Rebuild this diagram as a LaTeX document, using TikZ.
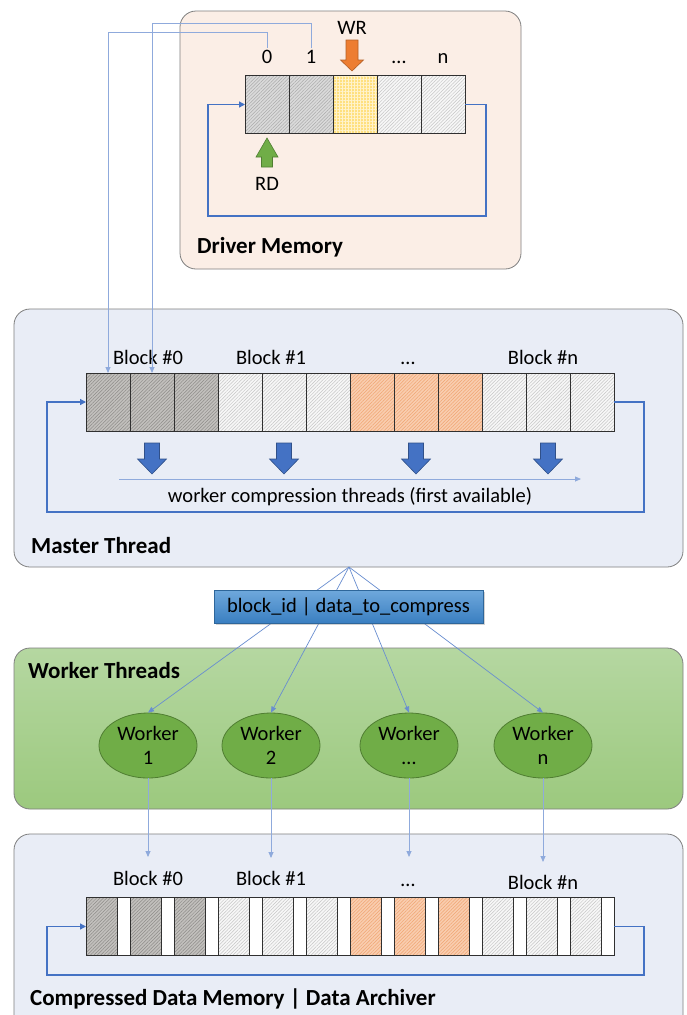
\documentclass[tikz,border=0pt]{standalone}
\usepackage{fontspec}
\setmainfont{Carlito}
\usetikzlibrary{positioning,shapes.geometric,patterns.meta,shadows,arrows.meta}

\definecolor{peach}{HTML}{FBEEE6}
\definecolor{paleblue}{HTML}{E9EDF6}
\definecolor{panelgray}{HTML}{7F7F7F}
\definecolor{loopblue}{HTML}{4472C4}
\definecolor{linkblue}{HTML}{8FAADC}
\definecolor{greentop}{HTML}{B5D7A1}
\definecolor{greenbot}{HTML}{9CC97E}
\definecolor{workergreen}{HTML}{70AD47}
\definecolor{workerline}{HTML}{507E32}
\definecolor{wrorange}{HTML}{ED7D31}
\definecolor{msgtop}{HTML}{6FA8DC}
\definecolor{msgbot}{HTML}{3A7FC1}
\definecolor{darkfill}{HTML}{C2C0BD}
\definecolor{darkline}{HTML}{8E8C89}
\definecolor{greyfill}{HTML}{DADADA}
\definecolor{greyline}{HTML}{ABABAB}
\definecolor{lightfill}{HTML}{F7F7F7}
\definecolor{lightline}{HTML}{C6C6C6}
\definecolor{orangefill}{HTML}{F9CDAF}
\definecolor{orangeline}{HTML}{F0A572}
\definecolor{yellowfill}{HTML}{FFE07F}
\definecolor{cellline}{HTML}{303030}

\begin{document}
\begin{tikzpicture}[x=1pt, y=-1pt,
  every node/.style={font=\fontsize{20.5}{24}\selectfont},
  panel/.style={draw=panelgray, line width=0.8pt, rounded corners=16pt},
  title node/.style={anchor=west, inner sep=0pt, font=\fontsize{23}{26}\selectfont\bfseries},
  lbl node/.style={anchor=base, inner sep=2pt},
  cell node/.style={draw=cellline, line width=1pt, minimum width=44pt, minimum height=58pt, inner sep=0pt, outer sep=0pt},
  hatch/.style 2 args={preaction={fill=#1}, pattern={Lines[angle=45,distance=2.4pt,line width=0.5pt]}, pattern color=#2},
  hdark/.style={hatch={darkfill}{darkline}},
  hgrey/.style={hatch={greyfill}{greyline}},
  hlight/.style={hatch={lightfill}{lightline}},
  horange/.style={hatch={orangefill}{orangeline}},
  hyellow/.style={preaction={fill=yellowfill}, pattern={Hatch[distance=3pt,line width=0.6pt]}, pattern color=white!60!yellowfill},
  loop line/.style={draw=loopblue, line width=1.3pt, -{Triangle[length=6pt,width=6pt]}},
  link/.style={draw=linkblue, line width=0.8pt, -{Triangle[length=6pt,width=5pt]}},
  fan link/.style={draw=loopblue!80, line width=0.7pt, -{Triangle[length=6pt,width=5pt]}},
  worker node/.style={ellipse, draw=workerline, fill=workergreen, line width=0.8pt, minimum width=98pt, minimum height=65pt, inner sep=0pt, align=center},
  msg node/.style={draw=msgbot!80!black, line width=0.6pt, top color=msgtop, bottom color=msgbot, minimum width=269pt, minimum height=33pt, drop shadow={opacity=0.35, shadow xshift=1.5pt, shadow yshift=-2pt}},
  block arrow/.style={line width=0.6pt}]

\fill[white] (0,0) rectangle (686,1015);
\useasboundingbox (0,0) rectangle (686,1015);

% panels
\draw[panel, fill=peach] (180,11) rectangle (521,269);
\draw[panel, fill=paleblue] (14,309) rectangle (683,567);
\draw[panel, top color=greentop, bottom color=greenbot] (14,648) rectangle (683,809);
\draw[panel, fill=paleblue] (14,834) rectangle (683,1040);

\node[title node] (tdrv) at (197,247) {Driver Memory};
\node[title node] (tmst) at (31,546) {Master Thread};
\node[title node] (twrk) at (28,671) {Worker Threads};
\node[title node] (tcmp) at (30,999) {Compressed Data Memory | Data Archiver};

% driver memory ring
\foreach \i/\s in {0/hgrey,1/hgrey,2/hyellow,3/hlight,4/hlight}
  \node[cell node, \s] (d\i) at (267+44*\i,104.5) {};
\foreach \i/\t in {0/0,1/1,3/\ldots,4/n}
  \path (d\i.north) ++(0,-12) node[lbl node] (l\i) {\t};
\node[lbl node] (wr) at (352,34.5) {WR};
\node[lbl node] (rd) at (267,190.5) {RD};
\filldraw[block arrow, fill=wrorange, draw=wrorange!75!black] (346,40) -- (358,40) -- (358,60) -- (363.5,60) -- (352,71) -- (340.5,60) -- (346,60) -- cycle;
\filldraw[block arrow, fill=workergreen, draw=workerline] (261.5,167) -- (272.5,167) -- (272.5,157) -- (278,157) -- (267,138) -- (256,157) -- (261.5,157) -- cycle;
\coordinate (dl) at (208,216);
\draw[loop line] (d4.east) -- ++(21,0) |- (dl) |- (d0.west);

% master thread ring
\foreach \i/\s in {0/hdark,1/hdark,2/hdark,3/hlight,4/hlight,5/hlight,6/horange,7/horange,8/horange,9/hlight,10/hlight,11/hlight}
  \node[cell node, \s] (m\i) at (108+44*\i,402) {};
\foreach \x/\t [count=\k] in {148/Block \#0,271/Block \#1,408/\ldots,543/Block \#n}
  \node[lbl node] (mb\k) at (\x,364) {\t};
\coordinate (ml) at (47,512);
\draw[loop line] (m11.east) -- ++(30,0) |- (ml) |- (m0.west);
\foreach \x in {152,284,416,548}
  \filldraw[block arrow, fill=loopblue, draw=loopblue!70!black] (\x-7.5,443) -- (\x+7.5,443) -- (\x+7.5,459) -- (\x+14.5,459) -- (\x,474) -- (\x-14.5,459) -- (\x-7.5,459) -- cycle;
\coordinate (ws) at (119,479);
\coordinate (we) at (581,479);
\draw[link] (ws) -- (we);
\node (wct) at (350,497) {worker compression threads (first available)};

% driver slots to master blocks
\coordinate (t0) at (108,32);
\coordinate (t1) at (152,23);
\draw[link] (l0.north) |- (t0) -- (m0.north);
\draw[link] (l1.north) |- (t1) -- (m1.north);

% workers
\node[worker node] (w1) at (148,745.5) {Worker\\1};
\node[worker node] (w2) at (271,745.5) {Worker\\2};
\node[worker node] (w3) at (409,745.5) {Worker\\\ldots};
\node[worker node] (wn) at (543,745.5) {Worker\\n};
\coordinate (fan) at (349,567);
\foreach \w in {w1,w2,w3,wn}
  \draw[fan link] (fan) -- (\w.north);
\node[msg node] (msg) at (348.5,606.5) {block\_id | data\_to\_compress};

% compressed data ring
\node[cell node, minimum width=528pt, fill=white] (cs) at (350,926.5) {};
\foreach \i/\s in {0/hdark,1/hdark,2/hdark,3/hlight,4/hlight,5/hlight,6/horange,7/horange,8/horange,9/hlight,10/hlight,11/hlight}
  \node[cell node, minimum width=31.5pt, \s] (c\i) at (101.75+44*\i,926.5) {};
\node[lbl node] (cb1) at (148,885) {Block \#0};
\node[lbl node] (cb2) at (271,885) {Block \#1};
\node[lbl node] (cb3) at (408,886) {\ldots};
\node[lbl node] (cb4) at (543,889) {Block \#n};
\coordinate (cl) at (47,975);
\draw[loop line] (cs.east) -- ++(30,0) |- (cl) |- (c0.west);
\coordinate (e1) at (148,857);
\coordinate (e2) at (271,858);
\coordinate (e3) at (409,857);
\coordinate (e4) at (543,862);
\draw[link] (w1.south) -- (e1);
\draw[link] (w2.south) -- (e2);
\draw[link] (w3.south) -- (e3);
\draw[link] (wn.south) -- (e4);

\end{tikzpicture}
\end{document}
